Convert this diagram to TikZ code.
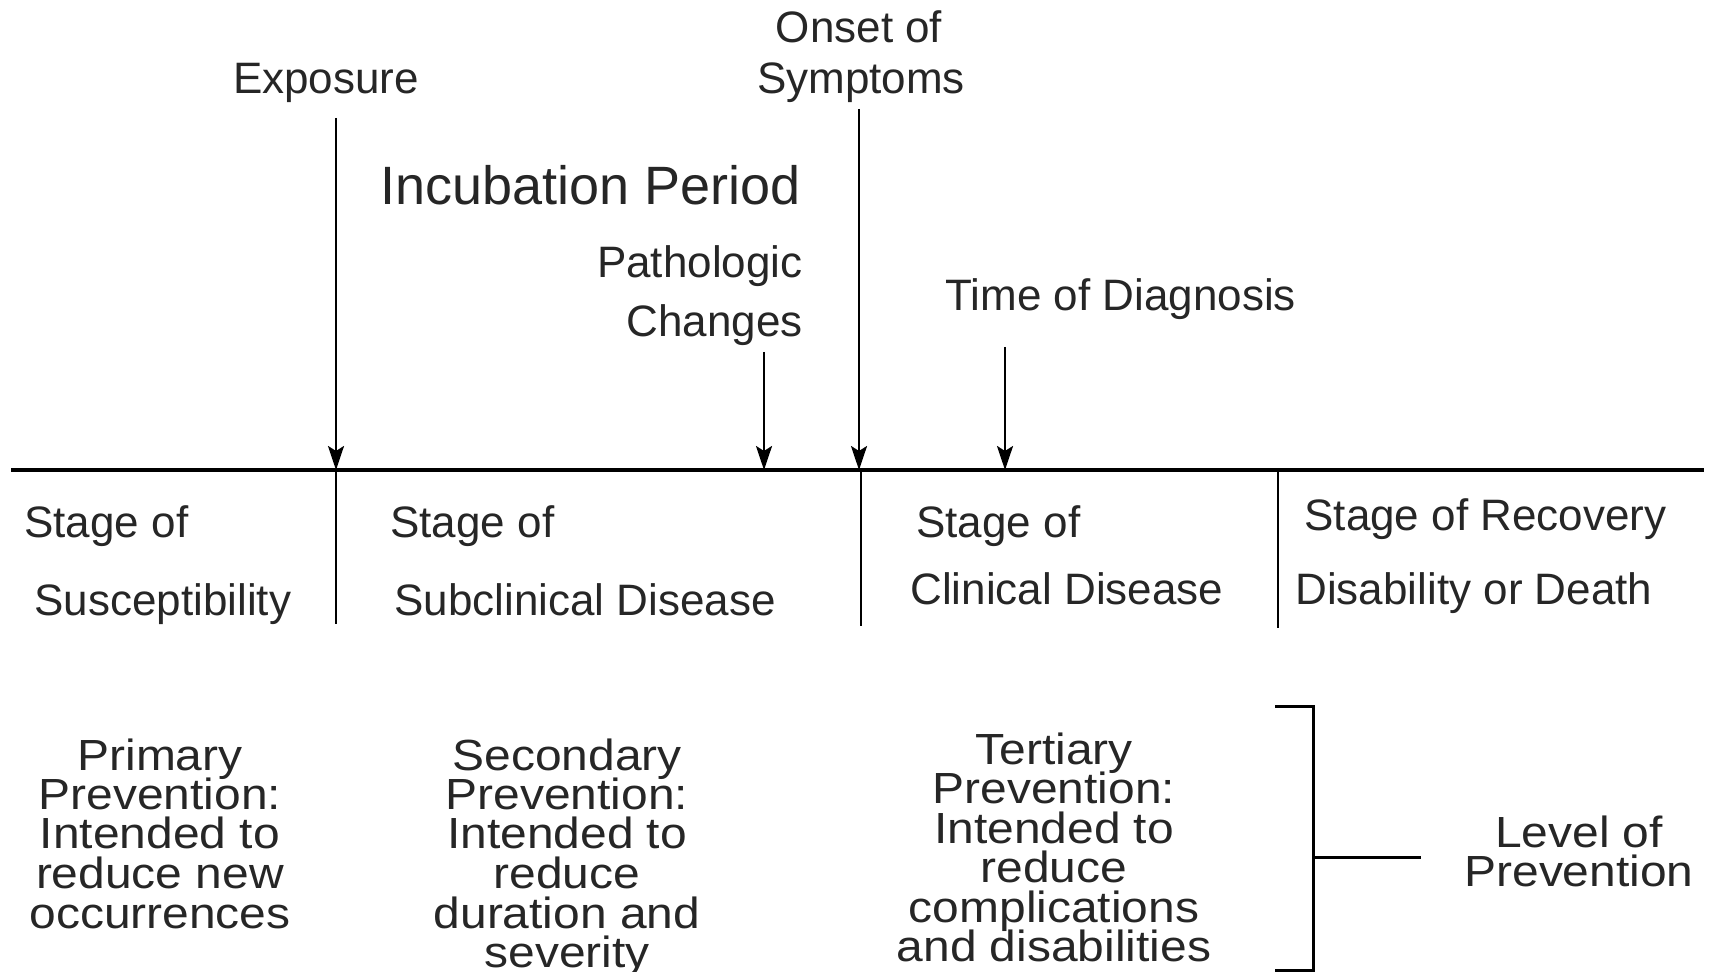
\documentclass[tikz,border=0pt]{standalone}
\usepackage{fontspec}
\setmainfont{Liberation Sans}
\newfontfamily\prevfam[FakeStretch=1.1]{Liberation Sans}
\usetikzlibrary{arrows.meta}
\newcommand\prevfontsel{\prevfam\fontsize{21.8}{19.75}\selectfont\lineskiplimit=-100pt\relax}
\begin{document}
\begin{tikzpicture}[x=0.5pt,y=-0.5pt,
  lbl/.style={inner sep=0pt, font=\fontsize{22}{26}\selectfont, text=black!85},
  biglbl/.style={inner sep=0pt, font=\fontsize{27}{32}\selectfont, text=black!85},
  prev/.style={inner sep=0pt, align=center, text=black!85, font=\prevfontsel},
  axisline/.style={line width=2pt},
  divider/.style={line width=1.25pt},
  bracketline/.style={line width=1.5pt},
  arr/.style={line width=1.25pt, -{Stealth[length=12pt,width=8pt,inset=2.5pt]}}]

\useasboundingbox (0,0) rectangle (1711,972);

% time axis
\coordinate (axL) at (11,470);
\coordinate (axR) at (1704,470);
\draw[axisline] (axL) -- (axR);

% event labels
\node[lbl, anchor=base] (exposure) at (326,94) {Exposure};
\node[lbl, anchor=base] (onsetA) at (859,43) {Onset of};
\node[lbl, anchor=base] (onsetB) at (861,94) {Symptoms};
\node[biglbl, anchor=base west] (incub) at (380,205) {Incubation Period};
\node[lbl, anchor=base east] (pathA) at (803,278) {Pathologic};
\node[lbl, anchor=base east] (pathB) at (803,337) {Changes};
\node[lbl, anchor=base west] (diag) at (945,311) {Time of Diagnosis};

% event arrows
\coordinate (expTop) at (336,118);
\coordinate (expBot) at (336,470);
\coordinate (onsTop) at (859,109);
\coordinate (onsBot) at (859,470);
\coordinate (patTop) at (764,352);
\coordinate (patBot) at (764,470);
\coordinate (diaTop) at (1005,347);
\coordinate (diaBot) at (1005,470);
\draw[arr] (expTop) -- (expBot);
\draw[arr] (onsTop) -- (onsBot);
\draw[arr] (patTop) -- (patBot);
\draw[arr] (diaTop) -- (diaBot);

% stage dividers
\coordinate (d1t) at (336,470);
\coordinate (d1b) at (336,624);
\coordinate (d2t) at (861,470);
\coordinate (d2b) at (861,626);
\coordinate (d3t) at (1278,470);
\coordinate (d3b) at (1278,628);
\draw[divider] (d1t) -- (d1b);
\draw[divider] (d2t) -- (d2b);
\draw[divider] (d3t) -- (d3b);

% stage labels
\node[lbl, anchor=base west] (s1a) at (24,537) {Stage of};
\node[lbl, anchor=base west] (s1b) at (34,615) {Susceptibility};
\node[lbl, anchor=base west] (s2a) at (390,537) {Stage of};
\node[lbl, anchor=base west] (s2b) at (394,615) {Subclinical Disease};
\node[lbl, anchor=base west] (s3a) at (916,537) {Stage of};
\node[lbl, anchor=base west] (s3b) at (910,604) {Clinical Disease};
\node[lbl, anchor=base west] (s4a) at (1304,530) {Stage of Recovery};
\node[lbl, anchor=base west] (s4b) at (1295,604) {Disability or Death};

% prevention texts
\node[prev, anchor=north] (prim) at (160,738) {Primary\\Prevention:\\Intended to\\reduce new\\occurrences};
\node[prev, anchor=north] (sec) at (567,738) {Secondary\\Prevention:\\Intended to\\reduce\\duration and\\severity};
\node[prev, anchor=north] (ter) at (1054,732) {Tertiary\\Prevention:\\Intended to\\reduce\\complications\\and disabilities};
\node[prev, anchor=north] (level) at (1579,815) {Level of\\Prevention};

% bracket
\coordinate (brTL) at (1275,706);
\coordinate (brTR) at (1313,706);
\coordinate (brBR) at (1313,970);
\coordinate (brBL) at (1275,970);
\coordinate (brM) at (1313,857);
\coordinate (brMR) at (1421,857);
\draw[bracketline] (brTL) -- (brTR) -- (brBR) -- (brBL);
\draw[bracketline] (brM) -- (brMR);
\end{tikzpicture}
\end{document}
